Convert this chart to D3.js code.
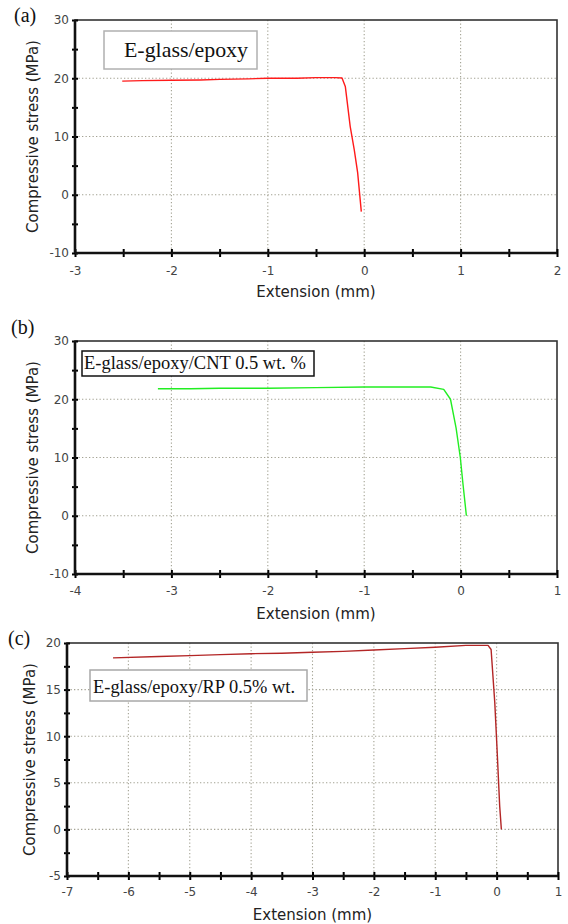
<!DOCTYPE html>
<html><head><meta charset="utf-8">
<script src="https://cdn.jsdelivr.net/npm/d3@7"></script>
<style>body{margin:0;background:#fff}svg{display:block}</style>
</head><body>
<svg id="chart" width="568" height="924"></svg>
<script>
// ---------- data ----------
const panelLabels = ["(a)", "(b)", "(c)"];
const legendTexts = ["E-glass/epoxy", "E-glass/epoxy/CNT 0.5 wt. %", "E-glass/epoxy/RP 0.5% wt."];
const xTitle = "Extension (mm)";
const yTitle = "Compressive stress (MPa)";

const xTicksA = [-3, -2, -1, 0, 1, 2];
const yTicksA = [-10, 0, 10, 20, 30];
const extA = [-2.51, -2.3, -2.0, -1.7, -1.5, -1.2, -1.0, -0.7, -0.5, -0.3, -0.23, -0.196, -0.145, -0.103, -0.068, -0.03];
const stressA = [19.5, 19.6, 19.65, 19.7, 19.8, 19.9, 20.0, 20.0, 20.1, 20.1, 20.05, 18.6, 11.7, 7.7, 3.8, -2.9];

const xTicksB = [-4, -3, -2, -1, 0, 1];
const yTicksB = [-10, 0, 10, 20, 30];
const extB = [-3.14, -2.8, -2.5, -2.0, -1.5, -1.0, -0.6, -0.31, -0.175, -0.105, -0.047, -0.003, 0.025, 0.06];
const stressB = [21.8, 21.8, 21.9, 21.9, 22.0, 22.1, 22.1, 22.1, 21.7, 20.0, 15.1, 10.0, 5.4, 0.0];

const xTicksC = [-7, -6, -5, -4, -3, -2, -1, 0, 1];
const yTicksC = [-5, 0, 5, 10, 15, 20];
const extC = [-6.25, -5.5, -5.0, -4.5, -4.0, -3.5, -3.0, -2.5, -2.0, -1.5, -1.0, -0.5, -0.14, -0.09, -0.03, 0.005, 0.05, 0.077];
const stressC = [18.4, 18.55, 18.65, 18.75, 18.85, 18.9, 19.0, 19.1, 19.25, 19.4, 19.55, 19.75, 19.75, 19.3, 13.6, 8.9, 2.5, 0.0];

// ---------- layout ----------
const panels = [
  {label: panelLabels[0], legend: legendTexts[0], xs: extA, ys: stressA, xt: xTicksA, yt: yTicksA,
   left: 75, right: 557, top: 20, bottom: 253, color: "#ff1a1a",
   labPos: [14, 22], legBox: [104, 31, 153, 38], legText: [124, 57], legSize: 22, legW: 124, legStroke: "#b0b0b0",
   yTitleX: 38, xTitleY: 297, xLabBase: 275},
  {label: panelLabels[1], legend: legendTexts[1], xs: extB, ys: stressB, xt: xTicksB, yt: yTicksB,
   left: 75, right: 557, top: 341, bottom: 574, color: "#22ee22",
   labPos: [11, 334], legBox: [82, 351, 232, 25], legText: [84, 369], legSize: 19, legW: 222, legStroke: "#111",
   yTitleX: 38, xTitleY: 619, xLabBase: 595},
  {label: panelLabels[2], legend: legendTexts[2], xs: extC, ys: stressC, xt: xTicksC, yt: yTicksC,
   left: 67, right: 558, top: 643, bottom: 876, color: "#b32626",
   labPos: [8, 645], legBox: [90, 670, 217, 31], legText: [93, 693], legSize: 18, legW: 202, legStroke: "#a8a8a8",
   yTitleX: 35, xTitleY: 920, xLabBase: 896}
];

const svg = d3.select("#chart");
const sans = "DejaVu Sans, Verdana, sans-serif";
const serif = "Liberation Serif, Times New Roman, serif";

panels.forEach(p => {
  const g = svg.append("g");
  const x = d3.scaleLinear().domain(d3.extent(p.xt)).range([p.left, p.right]);
  const y = d3.scaleLinear().domain(d3.extent(p.yt)).range([p.bottom, p.top]);
  const xs = x.domain(), ys = y.domain();

  // grid
  g.append("g").selectAll("line").data(p.xt.slice(1, -1)).join("line")
    .attr("x1", d => x(d)).attr("x2", d => x(d)).attr("y1", p.top).attr("y2", p.bottom)
    .attr("stroke", "#a3a293").attr("stroke-width", 1.1).attr("stroke-dasharray", "1.3,2.2");
  g.append("g").selectAll("line").data(p.yt.slice(1, -1)).join("line")
    .attr("y1", d => y(d)).attr("y2", d => y(d)).attr("x1", p.left).attr("x2", p.right)
    .attr("stroke", "#a3a293").attr("stroke-width", 1.1).attr("stroke-dasharray", "1.3,2.2");

  // frame
  g.append("rect").attr("x", p.left).attr("y", p.top).attr("width", p.right - p.left).attr("height", p.bottom - p.top)
    .attr("fill", "none").attr("stroke", "#333").attr("stroke-width", 1.6);

  const stepX = p.xt[1] - p.xt[0], stepY = p.yt[1] - p.yt[0];
  const halfX = d3.range(xs[0], xs[1] + 1e-9, stepX / 2);
  const halfY = d3.range(ys[0], ys[1] + 1e-9, stepY / 2);
  const majX = new Set(p.xt), majY = new Set(p.yt);

  const bx = g.append("g").attr("transform", `translate(0,${p.bottom})`)
    .call(d3.axisBottom(x).tickValues(halfX).tickSizeInner(4).tickSizeOuter(0).tickPadding(0)
      .tickFormat(d => majX.has(d) ? String(d) : ""));
  bx.selectAll(".tick text").attr("dy", null).attr("y", p.xLabBase - p.bottom);
  const bx2 = g.append("g").attr("transform", `translate(0,${p.bottom})`)
    .call(d3.axisBottom(x).tickValues(halfX).tickSizeInner(-4).tickSizeOuter(0).tickFormat(""));
  const ly = g.append("g").attr("transform", `translate(${p.left},0)`)
    .call(d3.axisLeft(y).tickValues(halfY).tickSizeInner(3).tickSizeOuter(0).tickPadding(3)
      .tickFormat(d => majY.has(d) ? String(d) : ""));
  const ly2 = g.append("g").attr("transform", `translate(${p.left},0)`)
    .call(d3.axisLeft(y).tickValues(halfY).tickSizeInner(-3).tickSizeOuter(0).tickFormat(""));
  [bx, bx2, ly, ly2].forEach(a => {
    a.select(".domain").remove();
    a.selectAll(".tick line").attr("stroke", "#000").attr("stroke-width", 2);
    a.selectAll(".tick text").attr("fill", "#444").style("font-family", sans).style("font-size", "12px");
  });
  g.append("line").attr("x1", p.left).attr("x2", p.right).attr("y1", p.bottom).attr("y2", p.bottom)
    .attr("stroke", "#111").attr("stroke-width", 2.6);
  g.append("line").attr("x1", p.left).attr("x2", p.left).attr("y1", p.top).attr("y2", p.bottom)
    .attr("stroke", "#111").attr("stroke-width", 2.6);

  // data line
  const pts = p.xs.map((v, i) => [v, p.ys[i]]);
  g.append("path").datum(pts)
    .attr("d", d3.line().x(d => x(d[0])).y(d => y(d[1])))
    .attr("fill", "none").attr("stroke", p.color).attr("stroke-width", 1.4).attr("stroke-linejoin", "round");

  // legend box
  g.append("rect").attr("x", p.legBox[0]).attr("y", p.legBox[1]).attr("width", p.legBox[2]).attr("height", p.legBox[3])
    .attr("fill", "#fff").attr("stroke", p.legStroke).attr("stroke-width", 1.5);
  g.append("text").attr("x", p.legText[0]).attr("y", p.legText[1]).text(p.legend)
    .style("font-family", serif).style("font-size", p.legSize + "px").attr("fill", "#111")
    .attr("textLength", p.legW).attr("lengthAdjust", "spacingAndGlyphs");

  // panel label
  g.append("text").attr("x", p.labPos[0]).attr("y", p.labPos[1]).text(p.label)
    .style("font-family", serif).style("font-size", "20px").attr("fill", "#111");

  // axis titles
  g.append("text").attr("x", (p.left + p.right) / 2).attr("y", p.xTitleY).attr("text-anchor", "middle")
    .text(xTitle).style("font-family", sans).style("font-size", "15px").attr("fill", "#222");
  g.append("text").attr("transform", `translate(${p.yTitleX},${(p.top + p.bottom) / 2}) rotate(-90)`)
    .attr("text-anchor", "middle").text(yTitle)
    .style("font-family", sans).style("font-size", "15px").attr("fill", "#222");
});
</script>
</body></html>
